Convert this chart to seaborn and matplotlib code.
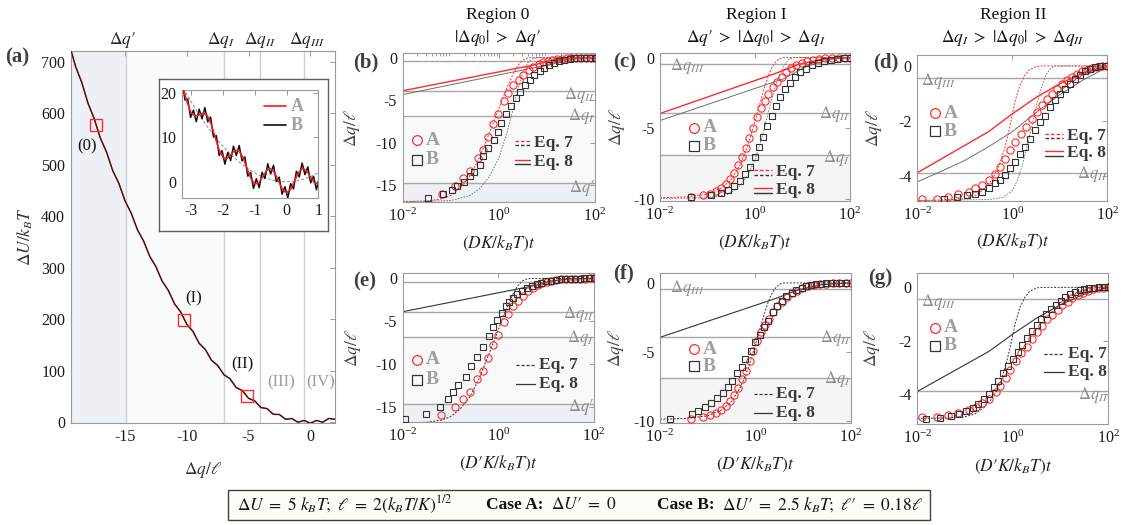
import numpy as np
import seaborn as sns
import matplotlib.pyplot as plt
from matplotlib.transforms import blended_transform_factory

# ---------------- panel (a): potential landscape ----------------
dq_a = np.arange(-19.5, 2.01, 0.5)
dU_a = [733, 691, 660, 620, 590, 552, 525, 489, 464, 430, 406, 374, 352, 322,
        302, 274, 256, 230, 214, 190, 176, 153, 141, 120, 110, 92, 84, 67, 61,
        46, 41, 28, 26, 15, 14.5, 5.2, 6.8, -0.6, 3, -2.5, 3, -0.6, 6.8, 5.2]
start_q0 = [-17.36, -10.19, -5.13]
start_U0 = [578, 199, 50.5]
a_vlines = [-14.95, -6.95, -4.05, -0.5]
a_vline_label_x = [-15.2, -7.2, -4.1, -0.3]
a_vline_names = ["$\\Delta q\u2032$", r"$\Delta q_I$", r"$\Delta q_{II}$", r"$\Delta q_{III}$"]

# inset of (a)
qi_A = np.arange(-3.25, 1.01, 0.125)
Ui_A = [21.1, 17.8, 15.5, 14.8, 15.1, 15.5, 15.0, 13.05, 10.1, 7.26, 5.5, 5.26,
        6.13, 7.05, 7.0, 5.55, 3.13, 0.76, -0.5, -0.24, 1.13, 2.55, 3.0, 2.05,
        0.13, -1.74, -2.5, -1.74, 0.13, 2.05, 3.0, 2.55, 1.13, -0.24, -0.5]
qi_B = np.linspace(-3.29, 1.03, 49)
Ui_B = [23.5, 18.46, 18.66, 14.51, 16.16, 13.54, 16.38, 14.24, 16.72, 13.53,
        14.6, 10.1, 10.4, 5.92, 7.03, 3.96, 6.63, 4.79, 8.03, 5.93, 8.19, 4.69,
        5.6, 1.26, 2.09, -1.51, 0.68, -1.36, 2.13, 0.73, 4.06, 1.75, 3.7, 0.01,
        1.05, -2.8, -1.12, -3.67, -0.43, -1.62, 2.36, 1.09, 4.23, 1.61, 3.35,
        -0.25, 1.23, -1.8, 0.91]
qi_P = np.arange(-3.25, 1.01, 0.25)
Ui_P = [21.1, 18, 15.1, 12.5, 10.1, 8, 6.1, 4.5, 3.1, 2, 1.1, 0.5, 0.1, 0, 0.1,
        0.5, 1.1, 2]

# ---------------- relaxation curves (log10 of scaled time) ----------------
# region 0
r0_A_logt = [-1.19, -0.91, -0.74, -0.60, -0.44, -0.33, -0.22, -0.12, -0.01, 0.11,
             0.20, 0.30, 0.41, 0.51, 0.62, 0.72, 0.83, 0.92, 1.02, 1.11, 1.21,
             1.31, 1.41, 1.51, 1.61, 1.71, 1.81, 1.91, 2.0]
r0_A_q = [-16.0, -15.1, -14.1, -13.3, -11.8, -10.9, -9.3, -7.8, -6.6, -5.1, -4.2,
          -3.2, -2.6, -2.0, -1.5, -1.1, -0.8, -0.55, -0.38, -0.26, -0.18, -0.12,
          -0.08, -0.05, -0.03, -0.02, -0.01, 0.0, 0.0]
r0_B_logt = [-1.47, -1.17, -0.98, -0.88, -0.72, -0.60, -0.52, -0.40, -0.32, -0.22,
             -0.11, -0.01, 0.05, 0.15, 0.26, 0.36, 0.44, 0.55, 0.64, 0.74, 0.85,
             0.94, 1.05, 1.15, 1.26, 1.36, 1.47, 1.57, 1.68, 1.78, 1.89, 2.0]
r0_B_q = [-16.45, -16.05, -15.6, -15.1, -14.6, -13.95, -13.4, -12.65, -11.6, -10.6,
          -9.7, -8.7, -7.7, -6.65, -5.7, -4.8, -4.0, -3.25, -2.6, -2.0, -1.55,
          -1.18, -0.9, -0.62, -0.42, -0.27, -0.16, -0.1, -0.06, -0.03, -0.01, 0.0]
r0_Bp_logt = [-1.96, -1.51, -1.21, -1.05, -0.95, -0.84, -0.68, -0.58, -0.44, -0.33,
              -0.2, -0.12, -0.03, 0.08, 0.16, 0.23, 0.31, 0.4, 0.49, 0.59, 0.7, 0.8,
              0.9, 1.0, 1.1, 1.2, 1.3, 1.4, 1.5, 1.6, 1.7, 1.8, 1.9, 2.0]
r0_Bp_q = [-16.45, -15.9, -15.1, -14.15, -13.25, -12.45, -11.5, -10.3, -9.15, -8.0,
           -6.75, -5.65, -4.85, -4.0, -3.25, -2.75, -2.25, -1.85, -1.45, -1.15,
           -0.9, -0.68, -0.5, -0.36, -0.25, -0.17, -0.11, -0.07, -0.04, -0.02,
           -0.01, 0.0, 0.0, 0.0]
r0_eq7A_logt = [-2.0, -1.5, -1.2, -1.0, -0.8, -0.6, -0.4, -0.2, 0.0, 0.15, 0.3, 0.4,
                0.5, 0.6, 0.7, 2.0]
r0_eq7A_q = [-16.9, -16.85, -16.6, -16.2, -15.3, -13.9, -11.7, -8.9, -6.0, -3.8,
             -1.9, -0.9, -0.3, -0.05, 0.0, 0.0]
r0_eq7B_logt = [-2.0, -1.0, -0.6, -0.4, -0.2, 0.0, 0.15, 0.3, 0.4, 0.5, 0.6, 0.7,
                0.8, 2.0]
r0_eq7B_q = [-16.95, -16.8, -16.2, -15.4, -14.0, -11.8, -9.2, -6.0, -3.6, -1.7,
             -0.6, -0.15, 0.0, 0.0]
r0_eq8A_logt = [-2.0, 0.75, 1.1, 1.5, 2.0]
r0_eq8A_q = [-3.9, -0.85, -0.3, -0.06, 0.0]
r0_eq8B_logt = [-2.0, 0.9, 1.3, 1.7, 2.0]
r0_eq8B_q = [-4.35, -1.0, -0.35, -0.08, 0.0]

# region I
r1_A_logt = [-1.35, -1.1, -0.95, -0.82, -0.72, -0.62, -0.53, -0.44, -0.36, -0.28,
             -0.2, -0.12, -0.04, 0.04, 0.12, 0.2, 0.28, 0.37, 0.46, 0.56, 0.66,
             0.76, 0.87, 0.98, 1.1, 1.22, 1.35, 1.48, 1.62, 1.76, 1.9, 2.0]
r1_A_q = [-9.85, -9.72, -9.6, -9.42, -9.2, -8.95, -8.6, -8.15, -7.6, -7.0, -6.4,
          -5.7, -4.95, -4.2, -3.55, -3.05, -2.6, -2.1, -1.7, -1.35, -1.02, -0.76,
          -0.55, -0.38, -0.25, -0.16, -0.1, -0.06, -0.03, -0.02, -0.01, 0.0]
r1_B_logt = [-1.35, -0.92, -0.72, -0.57, -0.44, -0.32, -0.21, -0.11, -0.01, 0.08,
             0.17, 0.26, 0.35, 0.44, 0.53, 0.63, 0.73, 0.84, 0.95, 1.07, 1.19,
             1.32, 1.45, 1.59, 1.73, 1.87, 2.0]
r1_B_q = [-9.85, -9.72, -9.55, -9.33, -9.05, -8.7, -8.25, -7.7, -7.05, -6.35, -5.6,
          -4.85, -4.1, -3.4, -2.8, -2.25, -1.78, -1.38, -1.05, -0.78, -0.55, -0.38,
          -0.25, -0.15, -0.08, -0.03, 0.0]
r1_Bp_logt = [-1.8, -1.32, -1.2, -1.06, -0.92, -0.8, -0.68, -0.57, -0.49, -0.38,
              -0.29, -0.21, -0.1, -0.01, 0.09, 0.18, 0.27, 0.37, 0.45, 0.55, 0.65,
              0.76, 0.86, 0.97, 1.07, 1.17, 1.28, 1.38, 1.49, 1.59, 1.7, 1.8, 1.91]
r1_Bp_q = [-9.88, -9.51, -9.3, -8.98, -8.74, -8.37, -8.01, -7.57, -7.09, -6.55,
           -6.07, -5.53, -4.93, -4.32, -3.76, -3.2, -2.79, -2.11, -1.65, -1.29,
           -0.97, -0.73, -0.53, -0.36, -0.24, -0.17, -0.1, -0.05, -0.02, 0.0, 0.0,
           0.0, 0.0]
r1_eq7A_logt = [-2.0, -1.5, -1.0, -0.7, -0.5, -0.3, -0.15, 0.0, 0.1, 0.2, 0.3, 0.4,
                0.5, 0.6, 2.0]
r1_eq7A_q = [-9.9, -9.85, -9.65, -9.2, -8.6, -7.5, -6.2, -4.5, -3.3, -2.1, -1.1,
             -0.45, -0.1, 0.0, 0.0]
r1_eq7B_logt = [-2.0, -1.0, -0.6, -0.35, -0.15, 0.0, 0.15, 0.3, 0.45, 0.6, 0.7,
                0.8, 2.0]
r1_eq7B_q = [-9.95, -9.9, -9.7, -9.2, -8.3, -7.2, -5.6, -3.6, -1.8, -0.6, -0.15,
             0.0, 0.0]
r1_eq8A_logt = [-2.0, 0.45, 0.9, 1.4, 2.0]
r1_eq8A_q = [-3.95, -1.1, -0.5, -0.12, 0.0]
r1_eq8B_logt = [-2.0, 0.6, 1.1, 1.6, 2.0]
r1_eq8B_q = [-4.45, -1.5, -0.6, -0.12, 0.0]

# region II
r2_A_logt = [-1.91, -1.59, -1.35, -1.14, -0.92, -0.78, -0.64, -0.50, -0.36, -0.26,
             -0.15, -0.05, 0.06, 0.18, 0.29, 0.41, 0.51, 0.62, 0.72, 0.83, 0.94,
             1.04, 1.15, 1.25, 1.36, 1.46, 1.57, 1.67, 1.78, 1.88, 1.99]
r2_A_q = [-4.87, -4.84, -4.78, -4.69, -4.59, -4.47, -4.35, -4.17, -3.93, -3.68,
          -3.38, -3.08, -2.77, -2.47, -2.23, -1.93, -1.68, -1.44, -1.2, -1.02,
          -0.84, -0.65, -0.53, -0.41, -0.29, -0.2, -0.13, -0.07, -0.04, -0.01, 0.0]
r2_B_logt = [-1.44, -1.17, -0.96, -0.78, -0.64, -0.5, -0.36, -0.26, -0.15, -0.05,
             0.06, 0.16, 0.27, 0.37, 0.48, 0.58, 0.69, 0.79, 0.9, 1.0, 1.11, 1.21,
             1.32, 1.42, 1.53, 1.63, 1.74, 1.84, 1.95]
r2_B_q = [-4.84, -4.78, -4.71, -4.69, -4.59, -4.47, -4.29, -4.17, -3.99, -3.74,
          -3.5, -3.2, -2.96, -2.65, -2.35, -2.05, -1.81, -1.5, -1.26, -1.02, -0.84,
          -0.65, -0.47, -0.33, -0.2, -0.11, -0.05, -0.01, 0.0]
r2_Bp_logt = [-1.82, -1.52, -1.3, -1.12, -0.97, -0.84, -0.72, -0.61, -0.5, -0.4,
              -0.3, -0.2, -0.1, 0.0, 0.1, 0.2, 0.3, 0.4, 0.5, 0.6, 0.7, 0.8, 0.9,
              1.0, 1.1, 1.2, 1.3, 1.4, 1.5, 1.6, 1.7, 1.8, 1.9, 2.0]
r2_Bp_q = [-4.95, -4.9, -4.83, -4.74, -4.64, -4.52, -4.38, -4.2, -4.0, -3.75, -3.5,
           -3.22, -2.95, -2.68, -2.42, -2.16, -1.9, -1.65, -1.42, -1.2, -1.0, -0.82,
           -0.65, -0.5, -0.37, -0.26, -0.17, -0.1, -0.05, -0.02, -0.01, 0.0, 0.0,
           0.0]
r2_eq7A_logt = [-2.0, -1.5, -1.0, -0.8, -0.6, -0.45, -0.3, -0.15, -0.05, 0.05, 0.15,
                0.25, 0.35, 0.5, 0.6, 2.0]
r2_eq7A_q = [-4.91, -4.9, -4.85, -4.75, -4.5, -4.2, -3.75, -2.95, -2.2, -1.35,
             -0.75, -0.38, -0.15, -0.02, 0.0, 0.0]
r2_eq7B_logt = [-2.0, -0.5, -0.2, 0.0, 0.1, 0.2, 0.3, 0.4, 0.5, 0.6, 0.7, 0.8, 0.9,
                2.0]
r2_eq7B_q = [-4.91, -4.88, -4.8, -4.55, -4.2, -3.7, -3.0, -2.3, -1.5, -0.85, -0.35,
             -0.1, 0.0, 0.0]
r2_eq8A_logt = [-2.0, -1.5, -1.0, -0.5, 0.0, 0.5, 1.0, 1.5, 2.0]
r2_eq8A_q = [-3.9, -3.4, -2.9, -2.4, -1.75, -1.15, -0.65, -0.25, 0.0]
r2_eq8B_logt = [-2.0, -1.5, -1.0, -0.5, 0.0, 0.5, 1.0, 1.5, 2.0]
r2_eq8B_q = [-4.23, -3.85, -3.45, -2.95, -2.4, -1.7, -1.05, -0.5, -0.05]

# characteristic displacements (horizontal guides)
dq_prime, dq_I, dq_II, dq_III = -14.75, -6.9, -3.9, -0.45

# ---------------- style ----------------
sns.set_theme(style="white")
plt.rcParams["font.family"] = ["Liberation Serif", "DejaVu Serif"]
plt.rcParams["mathtext.fontset"] = "stix"
plt.rcParams["axes.unicode_minus"] = False

P = "\u2032"  # prime
RED = "#ff2a2a"
DARK = "#333333"
GRAYLINE = "#6e6e6e"
GUIDE = "#a8a8a8"
LBL = "#8c8c8c"
SHADE1 = "#edf0f5"
SHADE2 = "#f8f9fb"

W, H = 1125, 525


def px_rect(l, t, r, b):
    return [l / W, 1 - b / H, (r - l) / W, (b - t) / H]


def style_axes(ax):
    ax.tick_params(direction="in", which="both", top=True, right=True,
                   color="#9a9a9a", labelsize=11.5, labelcolor="#1a1a1a",
                   length=3.5, width=0.7, pad=4)
    ax.tick_params(which="minor", length=2)
    for s in ax.spines.values():
        s.set_color("#9a9a9a")
        s.set_linewidth(0.8)


def curve(ax, logt, q, **kw):
    sns.lineplot(x=10.0 ** np.asarray(logt), y=q, ax=ax, estimator=None,
                 sort=False, **kw)


def marks(ax, logt, q, marker, color, ms=5.2):
    sns.lineplot(x=10.0 ** np.asarray(logt), y=q, ax=ax, estimator=None,
                 sort=False, marker=marker, linestyle="none", ms=ms, mfc="none",
                 mec=color, mew=0.8, zorder=4)


fig = plt.figure(figsize=(11.25, 5.25), dpi=100)

# ---------------- (a) ----------------
ax = fig.add_axes(px_rect(70.7, 50.7, 335, 423))
ax.axvspan(-19.4, a_vlines[0], color=SHADE1, lw=0, zorder=0)
ax.axvspan(a_vlines[0], a_vlines[1], color="#fafbfc", lw=0, zorder=0)
for v in a_vlines:
    ax.axvline(v, color="#cfcfcf", lw=1.0, zorder=1)
sns.lineplot(x=dq_a, y=dU_a, ax=ax, estimator=None, sort=False, color="#d01010",
             lw=1.1, zorder=2)
sns.lineplot(x=dq_a, y=dU_a, ax=ax, estimator=None, sort=False, color="#1a1a1a",
             lw=0.7, zorder=3)
sns.lineplot(x=start_q0, y=start_U0, ax=ax, estimator=None, sort=False, marker="s",
             linestyle="none", ms=8, mfc="none", mec=RED, mew=1.0, zorder=4)
ax.set_xlim(-19.4, 2.0)
ax.set_ylim(-2, 722)
ax.set_xticks([-15, -10, -5, 0])
ax.set_yticks(range(0, 701, 100))
style_axes(ax)
ax.set_xlabel(r"$\Delta q/\ell$", fontsize=12.5, color="#333333")
ax.xaxis.set_label_coords(0.5, -0.1)
ax.set_ylabel(r"$\Delta U/k_BT$", fontsize=12.5, color="#333333")
ax.yaxis.set_label_coords(-0.135, 0.5)
tr = blended_transform_factory(ax.transData, ax.transAxes)
for x, name in zip(a_vline_label_x, a_vline_names):
    ax.text(x, 1.03, name, transform=tr, ha="center", va="center", fontsize=12.5,
            color="#222222")
for x, y, s, c in [(-18.06, 536, "(0)", "#111111"), (-9.41, 240, "(I)", "#111111"),
                   (-5.46, 112, "(II)", "#111111"), (-2.35, 77, "(III)", "#9a9a9a"),
                   (0.81, 77, "(IV)", "#9a9a9a")]:
    ax.text(x, y, s, ha="center", va="center", fontsize=12, color=c)
fig.text(5 / W, 1 - 57 / H, "(a)", fontsize=15, fontweight="bold",
         color="#404040", va="center", ha="left")

# inset
box = fig.add_axes(px_rect(158.7, 79, 328, 231))
box.set_xticks([])
box.set_yticks([])
box.set_facecolor("white")
for s in box.spines.values():
    s.set_color("#606060")
    s.set_linewidth(1.0)
ins = fig.add_axes(px_rect(181.7, 90, 318.3, 197.7))
sns.lineplot(x=qi_P, y=Ui_P, ax=ins, estimator=None, sort=False, color="#888888",
             lw=0.7, linestyle=(0, (3, 2)), zorder=1)
sns.lineplot(x=qi_B, y=Ui_B, ax=ins, estimator=None, sort=False, color="#111111",
             lw=1.1, zorder=2)
sns.lineplot(x=qi_A, y=Ui_A, ax=ins, estimator=None, sort=False, color="#ff1a1a",
             lw=1.1, zorder=3)
ins.set_xlim(-3.3, 1.0)
ins.set_ylim(-3.6, 20.7)
ins.set_xticks([-3, -2, -1, 0, 1])
ins.set_yticks([0, 10, 20])
style_axes(ins)
ins.plot([0.6, 0.76], [0.85, 0.85], transform=ins.transAxes, color="#ff1a1a", lw=1.2)
ins.plot([0.6, 0.76], [0.675, 0.675], transform=ins.transAxes, color="#111111", lw=1.2)
ins.text(0.8, 0.85, "A", transform=ins.transAxes, fontsize=13, fontweight="bold",
         color="#a0a0a0", va="center")
ins.text(0.8, 0.675, "B", transform=ins.transAxes, fontsize=13, fontweight="bold",
         color="#a0a0a0", va="center")


# ---------------- relaxation panels ----------------
def guide_text(ax, s, y, side):
    tr = blended_transform_factory(ax.transAxes, ax.transData)
    if side == "r":
        ax.text(1.0, y, s, transform=tr, ha="right", va="center", fontsize=12,
                color=LBL)
    else:
        ax.text(side, y, s, transform=tr, ha="left", va="center", fontsize=12,
                color=LBL)


def ab_legend(ax, x, yA, yB):
    ax.plot([x], [yA], transform=ax.transAxes, marker="o", ms=7, mfc="none",
            mec=RED, mew=0.9, ls="none")
    ax.plot([x], [yB], transform=ax.transAxes, marker="s", ms=6.5, mfc="none",
            mec=DARK, mew=0.9, ls="none")
    ax.text(x + 0.045, yA, "A", transform=ax.transAxes, fontsize=14,
            fontweight="bold", color="#a0a0a0", va="center")
    ax.text(x + 0.045, yB, "B", transform=ax.transAxes, fontsize=14,
            fontweight="bold", color="#a0a0a0", va="center")


def eq_legend(ax, x0, x1, y7, y8, two):
    if two:
        ax.plot([x0, x1], [y7 + 0.015] * 2, transform=ax.transAxes, color=RED,
                lw=1.0, ls=(0, (2.5, 1.5)))
        ax.plot([x0, x1], [y7 - 0.015] * 2, transform=ax.transAxes, color=DARK,
                lw=1.0, ls=(0, (2.5, 1.5)))
        ax.plot([x0, x1], [y8 + 0.015] * 2, transform=ax.transAxes, color=RED, lw=1.0)
        ax.plot([x0, x1], [y8 - 0.015] * 2, transform=ax.transAxes, color=DARK, lw=1.0)
    else:
        ax.plot([x0, x1], [y7] * 2, transform=ax.transAxes, color=DARK, lw=0.9,
                ls=(0, (2.5, 1.5)))
        ax.plot([x0, x1], [y8] * 2, transform=ax.transAxes, color=DARK, lw=0.9)
    ax.text(x1 + 0.02, y7, "Eq. 7", transform=ax.transAxes, fontsize=12.5,
            fontweight="bold", color="#3a3a3a", va="center")
    ax.text(x1 + 0.02, y8, "Eq. 8", transform=ax.transAxes, fontsize=12.5,
            fontweight="bold", color="#3a3a3a", va="center")


def time_axes(rect, ylim, shades):
    ax = fig.add_axes(rect)
    for lo, hi, c in shades:
        ax.axhspan(lo, hi, color=c, lw=0, zorder=0)
    for v in [dq_prime, dq_I, dq_II, dq_III]:
        ax.axhline(v, color=GUIDE, lw=1.0, zorder=1)
    return ax


def finish(ax, ylim, yticks, ylabel_x, xlabel):
    ax.set_xscale("log")
    ax.set_xlim(1e-2, 1e2)
    ax.set_ylim(*ylim)
    ax.set_xticks([1e-2, 1e0, 1e2])
    ax.set_yticks(yticks)
    style_axes(ax)
    ax.set_ylabel(r"$\Delta q/\ell$", fontsize=12.5, color="#444444")
    ax.yaxis.set_label_coords(ylabel_x, 0.5)
    ax.set_xlabel(xlabel, fontsize=12.5, color="#222222")
    ax.xaxis.set_label_coords(0.5, -0.215)


xl_top = r"$(DK/k_BT)t$"
xl_bot = "$(D" + P + "K/k_BT)t$"

# (b)
ylim = (-17.0, 0.5)
ax = time_axes(px_rect(402.7, 53.3, 595, 202.3), ylim,
               [(ylim[0], dq_prime, SHADE1), (dq_prime, dq_I, SHADE2)])
curve(ax, r0_eq7A_logt, r0_eq7A_q, color=RED, lw=0.7, linestyle=(0, (2, 1.5)), zorder=2)
curve(ax, r0_eq7B_logt, r0_eq7B_q, color=GRAYLINE, lw=0.6, linestyle=(0, (2, 1.5)), zorder=2)
curve(ax, r0_eq8A_logt, r0_eq8A_q, color=RED, lw=1.0, zorder=2)
curve(ax, r0_eq8B_logt, r0_eq8B_q, color=GRAYLINE, lw=0.7, zorder=2)
marks(ax, r0_A_logt, r0_A_q, "o", RED)
marks(ax, r0_B_logt, r0_B_q, "s", DARK, ms=4.8)
finish(ax, ylim, [-15, -10, -5, 0], -0.21, xl_top)
guide_text(ax, r"$\Delta q_{II}$", -4.35, "r")
guide_text(ax, r"$\Delta q_I$", -6.9, "r")
guide_text(ax, "$\\Delta q" + P + "$", -15.3, "r")
ab_legend(ax, 0.076, 0.418, 0.284)
eq_legend(ax, 0.584, 0.662, 0.398, 0.27, True)

# (c)
ylim = (-10.15, 0.3)
ax = time_axes(px_rect(660, 53.3, 850, 201.3), ylim, [(ylim[0], dq_I, "#f5f5f5")])
curve(ax, r1_eq7A_logt, r1_eq7A_q, color=RED, lw=0.7, linestyle=(0, (2, 1.5)), zorder=2)
curve(ax, r1_eq7B_logt, r1_eq7B_q, color=GRAYLINE, lw=0.6, linestyle=(0, (2, 1.5)), zorder=2)
curve(ax, r1_eq8A_logt, r1_eq8A_q, color=RED, lw=1.0, zorder=2)
curve(ax, r1_eq8B_logt, r1_eq8B_q, color=GRAYLINE, lw=0.7, zorder=2)
marks(ax, r1_A_logt, r1_A_q, "o", RED)
marks(ax, r1_B_logt, r1_B_q, "s", DARK, ms=4.8)
finish(ax, ylim, [-10, -5, 0], -0.174, xl_top)
guide_text(ax, r"$\Delta q_{III}$", -0.6, 0.05)
guide_text(ax, r"$\Delta q_{II}$", -4.0, "r")
guide_text(ax, r"$\Delta q_I$", -7.1, "r")
ab_legend(ax, 0.181, 0.497, 0.376)
eq_legend(ax, 0.495, 0.591, 0.196, 0.074, True)

# (d)
ylim = (-4.92, 0.4)
ax = time_axes(px_rect(917.3, 55, 1107.3, 200.7), ylim, [])
curve(ax, r2_eq7A_logt, r2_eq7A_q, color=RED, lw=0.7, linestyle=(0, (2, 1.5)), zorder=2)
curve(ax, r2_eq7B_logt, r2_eq7B_q, color=GRAYLINE, lw=0.6, linestyle=(0, (2, 1.5)), zorder=2)
curve(ax, r2_eq8A_logt, r2_eq8A_q, color=RED, lw=1.0, zorder=2)
curve(ax, r2_eq8B_logt, r2_eq8B_q, color=GRAYLINE, lw=0.7, zorder=2)
marks(ax, r2_A_logt, r2_A_q, "o", RED)
marks(ax, r2_B_logt, r2_B_q, "s", DARK, ms=4.8)
finish(ax, ylim, [-4, -2, 0], -0.175, xl_top)
guide_text(ax, r"$\Delta q_{III}$", -0.55, 0.02)
guide_text(ax, r"$\Delta q_{II}$", -3.95, "r")
ab_legend(ax, 0.093, 0.6, 0.478)
eq_legend(ax, 0.672, 0.768, 0.446, 0.325, True)

# (e)
ylim = (-16.85, 0.6)
ax = time_axes(px_rect(402.7, 273.3, 594, 422.3), ylim,
               [(ylim[0], dq_prime, SHADE1), (dq_prime, dq_I, SHADE2)])
curve(ax, r0_eq7A_logt, r0_eq7A_q, color=DARK, lw=0.7, linestyle=(0, (2, 1.5)), zorder=2)
curve(ax, r0_eq8A_logt, r0_eq8A_q, color=DARK, lw=0.8, zorder=2)
marks(ax, r0_A_logt, r0_A_q, "o", RED)
marks(ax, r0_Bp_logt, r0_Bp_q, "s", DARK, ms=4.8)
finish(ax, ylim, [-15, -10, -5, 0], -0.21, xl_bot)
guide_text(ax, r"$\Delta q_{II}$", -4.2, "r")
guide_text(ax, r"$\Delta q_I$", -7.0, "r")
guide_text(ax, "$\\Delta q" + P + "$", -15.0, "r")
ab_legend(ax, 0.076, 0.421, 0.286)
eq_legend(ax, 0.591, 0.692, 0.385, 0.257, False)

# (f)
ylim = (-10.15, 0.7)
ax = time_axes(px_rect(660, 273.3, 850.7, 422.7), ylim, [(ylim[0], dq_I, "#f5f5f5")])
curve(ax, r1_eq7A_logt, r1_eq7A_q, color=DARK, lw=0.7, linestyle=(0, (2, 1.5)), zorder=2)
curve(ax, r1_eq8A_logt, r1_eq8A_q, color=DARK, lw=0.8, zorder=2)
marks(ax, r1_A_logt, r1_A_q, "o", RED)
marks(ax, r1_Bp_logt, r1_Bp_q, "s", DARK, ms=4.8)
finish(ax, ylim, [-10, -5, 0], -0.18, xl_bot)
guide_text(ax, r"$\Delta q_{III}$", -0.4, 0.05)
guide_text(ax, r"$\Delta q_{II}$", -4.0, "r")
guide_text(ax, r"$\Delta q_I$", -7.0, "r")
ab_legend(ax, 0.18, 0.493, 0.379)
eq_legend(ax, 0.493, 0.586, 0.192, 0.067, False)

# (g)
ylim = (-5.12, 0.55)
ax = time_axes(px_rect(917.3, 272.7, 1108.3, 424), ylim, [])
curve(ax, r2_eq7A_logt, r2_eq7A_q, color=DARK, lw=0.7, linestyle=(0, (2, 1.5)), zorder=2)
curve(ax, r2_eq8A_logt, r2_eq8A_q, color=DARK, lw=0.8, zorder=2)
marks(ax, r2_A_logt, r2_A_q, "o", RED)
marks(ax, r2_Bp_logt, r2_Bp_q, "s", DARK, ms=4.8)
finish(ax, ylim, [-4, -2, 0], -0.186, xl_bot)
guide_text(ax, r"$\Delta q_{III}$", -0.55, 0.02)
guide_text(ax, r"$\Delta q_{II}$", -4.05, "r")
ab_legend(ax, 0.092, 0.637, 0.516)
eq_legend(ax, 0.663, 0.768, 0.463, 0.343, False)

# panel letters
for x, y, s in [(353, 62, "(b)"), (613, 62, "(c)"), (873, 62, "(d)"),
                (353, 281, "(e)"), (613, 273, "(f)"), (868, 278, "(g)")]:
    fig.text(x / W, 1 - y / H, s, fontsize=15, fontweight="bold", color="#404040",
             va="center", ha="left")

# column headers
for xc, l1, l2 in [(498, "Region 0", "$|\\Delta q_0|\\ >\\ \\Delta q" + P + "$"),
                   (756, "Region I",
                    "$\\Delta q" + P + "\\ >\\ |\\Delta q_0|\\ >\\ \\Delta q_I$"),
                   (1013, "Region II",
                    r"$\Delta q_I\ >\ |\Delta q_0|\ >\ \Delta q_{II}$")]:
    fig.text(xc / W, 1 - 15 / H, l1, fontsize=12.5, ha="center", va="center",
             color="#111111")
    fig.text(xc / W, 1 - 38 / H, l2, fontsize=12.5, ha="center", va="center",
             color="#111111")

# parameter box at the bottom: pieces laid out left to right
fig.patches.append(plt.Rectangle((228 / W, 1 - 520 / H), 702 / W, 30 / H,
                                 transform=fig.transFigure, facecolor="#fdfdf8",
                                 edgecolor="#404040", lw=1.0))
pieces = [
    ("$\\Delta U\\ =\\ 5\\ k_BT;\\ \\ell\\ =\\ 2(k_BT/K)^{1/2}$", "normal"),
    ("Case A:", "bold"),
    ("$\\Delta U" + P + "\\ =\\ 0$", "normal"),
    ("Case B:", "bold"),
    ("$\\Delta U" + P + "\\ =\\ 2.5\\ k_BT;\\ \\ell" + P + "\\ =\\ 0.18\\ell$", "normal"),
]
gap_share = [0.38, 0.08, 0.46, 0.08]
yb = 1 - 505 / H
renderer = fig.canvas.get_renderer()
texts = [fig.text(0, yb, s, fontsize=12.5, fontweight=w, va="center", ha="left",
                  color="#111111") for s, w in pieces]
widths = [t.get_window_extent(renderer).width for t in texts]
left, right = 237.0, 923.0
free = (right - left) - sum(widths)
xpos = left
for i, t in enumerate(texts):
    t.set_x(xpos / W)
    xpos += widths[i]
    if i < len(gap_share):
        xpos += free * gap_share[i]

fig.savefig("out.png", dpi=100)
